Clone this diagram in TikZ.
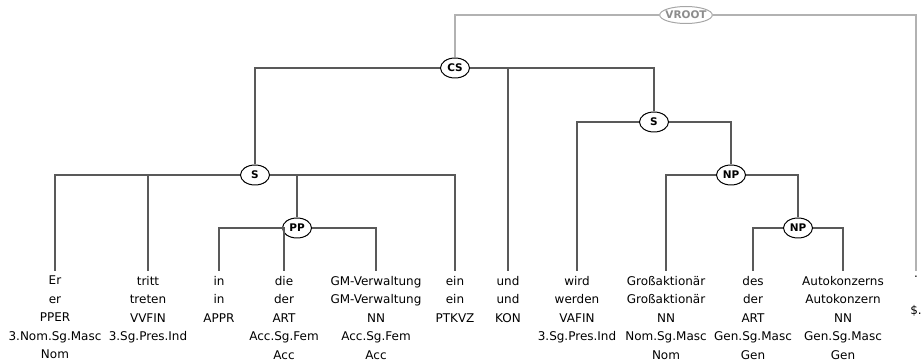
\documentclass[tikz,border=0pt]{standalone}
\usepackage{fontspec}
\setmainfont{DejaVu Sans}
\usetikzlibrary{shapes.geometric}

\begin{document}
\begin{tikzpicture}[x=1pt,y=-1pt,
    category/.style ={ellipse, draw, line width=1pt, inner xsep=-2pt, inner ysep=0pt,
      minimum width=29pt, minimum height=20pt, font=\bfseries\fontsize{10.5}{12}\selectfont},
    token/.style ={anchor=north, align=center, inner xsep=0pt, inner ysep=5pt,
      font=\fontsize{12}{18.5}\selectfont, execute at begin node=\strut},
    branch/.style ={line width=1.3pt, black!65},
    virtual/.style ={line width=1.3pt, black!30}]
   \useasboundingbox (0,0) rectangle (924,363);
   \node[category,black!35,text=black!45,minimum height=17pt] (VROOT) at (686,15) {VROOT};
   \node[category] (CS)  at (455,68)  {CS};
   \node[category] (S)   at (255,175) {S};
   \node[category] (PP)  at (297,228) {PP};
   \node[category] (Sb)  at (654,122) {S};
   \node[category] (NP)  at (731,175) {NP};
   \node[category] (NPb) at (798,228) {NP};

   \node[token] (Er)    at (55,271)  {Er\\er\\PPER\\3.Nom.Sg.Masc\\Nom};
   \node[token] (tritt) at (148,271) {tritt\\treten\\VVFIN\\3.Sg.Pres.Ind};
   \node[token] (in)    at (219,271) {in\\in\\APPR};
   \node[token] (die)   at (284,271) {die\\der\\ART\\Acc.Sg.Fem\\Acc};
   \node[token] (GM)    at (376,271) {GM-Verwaltung\\GM-Verwaltung\\NN\\Acc.Sg.Fem\\Acc};
   \node[token] (ein)   at (455,271) {ein\\ein\\PTKVZ};
   \node[token] (und)   at (508,271) {und\\und\\KON};
   \node[token] (wird)  at (577,271) {wird\\werden\\VAFIN\\3.Sg.Pres.Ind};
   \node[token] (Gross) at (666,271) {Großaktionär\\Großaktionär\\NN\\Nom.Sg.Masc\\Nom};
   \node[token] (des)   at (753,271) {des\\der\\ART\\Gen.Sg.Masc\\Gen};
   \node[token] (Auto)  at (843,271) {Autokonzerns\\Autokonzern\\NN\\Gen.Sg.Masc\\Gen};
   \node[token] (dot)   at (916,271) {.\\\mbox{}\\\$.};

   \draw[virtual] (VROOT) -| (CS);
   \draw[virtual] (VROOT) -| (dot);
   \draw[branch] (CS) -| (S);
   \draw[branch] (CS) -| (und);
   \draw[branch] (CS) -| (Sb);
   \draw[branch] (S) -| (Er);
   \draw[branch] (S) -| (tritt);
   \draw[branch] (S) -| (PP);
   \draw[branch] (S) -| (ein);
   \draw[branch] (PP) -| (in);
   \draw[branch] (PP) -| (die);
   \draw[branch] (PP) -| (GM);
   \draw[branch] (Sb) -| (wird);
   \draw[branch] (Sb) -| (NP);
   \draw[branch] (NP) -| (Gross);
   \draw[branch] (NP) -| (NPb);
   \draw[branch] (NPb) -| (des);
   \draw[branch] (NPb) -| (Auto);
 \end{tikzpicture}
\end{document}
